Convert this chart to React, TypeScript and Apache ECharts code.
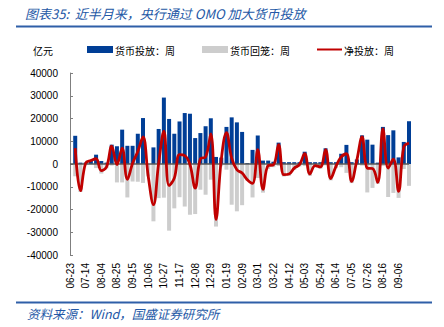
import React, { useEffect, useRef } from 'react';
import * as echarts from 'echarts';

// Weekly categories (Friday dates)
const categories = [
  '06-23', '06-30', '07-07', '07-14', '07-21', '07-28', '08-04', '08-11', '08-18', '08-25',
  '09-01', '09-08', '09-15', '09-22', '09-29', '10-06', '10-13', '10-20', '10-27', '11-03',
  '11-10', '11-17', '11-24', '12-01', '12-08', '12-15', '12-22', '12-29', '01-05', '01-12',
  '01-19', '01-26', '02-02', '02-09', '02-16', '02-23', '03-01', '03-08', '03-15', '03-22',
  '03-29', '04-05', '04-12', '04-19', '04-26', '05-03', '05-10', '05-17', '05-24', '05-31',
  '06-07', '06-14', '06-21', '06-28', '07-05', '07-12', '07-19', '07-26', '08-02', '08-09',
  '08-16', '08-23', '08-30', '09-06', '09-13', '09-20',
];

// 货币投放：周 (亿元)
const injection = [
  null, 12400, 600, 600, 1500, 4100, 1300, 600, 8500, 7800,
  15100, 8000, 8000, 13300, 20200, 0, 7300, 15400, 29200, 19800,
  13300, 18700, 22400, 22100, 11400, 13600, 16600, 20100, 3100, 2800,
  16300, 20500, 18300, 14100, 400, 6200, 12500, 1500, 1500, 1000,
  9400, 800, 800, 800, 800, 5400, 800, 800, 800, 6900,
  800, 800, 4500, 8400, 800, 2000, 12600, 10700, 8500, 600,
  16300, 12700, 14800, 2900, 9700, 18800,
];

// 货币回笼：周 (亿元)
const withdrawal = [
  null, -5400, -12300, -200, 0, -1800, -4200, -1900, -700, -8100,
  -8100, -14700, -7700, -7800, -8300, -5400, -25200, -15000, -14800, -29300,
  -19500, -14600, -18700, -22300, -22000, -11300, -13500, -6900, -27500, -1000,
  -2500, -17900, -20800, -18100, -7300, -14700, -6200, -12600, -2200, -1400,
  -900, -5500, -5200, -2600, -1100, -900, -5200, -1500, -2100, -600,
  -7200, -1800, -1400, -3900, -8400, -300, -700, -12500, -10500, -8700,
  -900, -14500, -12700, -14900, -2200, -9600,
];

// 净投放：周 (亿元)
const netInjection = [
  null, 7000, -11700, 400, 1500, 2300, -2900, -1300, 7800, -300,
  7000, -6700, 300, 5500, 11900, -5400, -17900, 400, 14400, -9500,
  -6200, 4100, 3700, -200, -10600, 2300, 3100, 13200, -24400, 1800,
  13800, 2600, -2500, -4000, -6900, -8500, 6300, -11100, -700, -400,
  8500, -4700, -4400, -1800, -300, 4500, -4400, -700, -1300, 6300,
  -6400, -1000, 3100, 4500, -7600, 1700, 11900, -1800, -2000, -8100,
  15400, -1800, 2100, -12000, 7500, 9200,
];

const seriesNames = ['货币投放：周', '货币回笼：周', '净投放：周'];
const unitLabel = '亿元';
const titleText = '图表35:  近半月来，央行通过 OMO 加大货币投放';
const sourceText = '资料来源：Wind，国盛证券研究所';

const BLUE = '#003E96';
const GRAY = '#CDCDCD';
const RED = '#C00000';
const TITLE_BLUE = '#2458A6';
const CJK = '"Noto Sans CJK SC", sans-serif';
const LATIN = '"Liberation Sans", Arial, sans-serif';

export default function App() {
  const ref = useRef<HTMLDivElement>(null);

  useEffect(() => {
    if (!ref.current) return;
    const chart = echarts.init(ref.current, null, { renderer: 'svg' });
    const legendY = 50;
    chart.setOption({
      animation: false,
      backgroundColor: '#fff',
      grid: { left: 70, right: 35, top: 73, bottom: 72, containLabel: false },
      xAxis: {
        type: 'category',
        data: categories,
        boundaryGap: false,
        axisLine: { show: false },
        axisTick: { show: false },
        axisLabel: {
          interval: 2,
          rotate: 90,
          fontSize: 10,
          color: '#000',
          margin: 8,
          fontFamily: LATIN,
        },
        splitLine: { show: false },
      },
      yAxis: {
        type: 'value',
        min: -40000,
        max: 40000,
        interval: 10000,
        axisLine: { show: true, lineStyle: { color: '#7f7f7f', width: 1 } },
        axisTick: { show: true, inside: true, length: 3, lineStyle: { color: '#7f7f7f' } },
        axisLabel: {
          formatter: (v: number) => String(v),
          fontSize: 10,
          color: '#000',
          margin: 12,
          fontFamily: LATIN,
        },
        splitLine: { show: false },
      },
      series: [
        {
          name: seriesNames[0],
          type: 'bar',
          data: injection,
          barWidth: 4,
          barGap: '-100%',
          clip: false,
          itemStyle: { color: BLUE },
        },
        {
          name: seriesNames[1],
          type: 'bar',
          data: withdrawal,
          barWidth: 4,
          barGap: '-100%',
          clip: false,
          itemStyle: { color: GRAY },
          markLine: {
            silent: true,
            symbol: ['none', 'none'],
            label: { show: false },
            lineStyle: { color: '#595959', width: 1.5, type: 'solid' },
            data: [{ yAxis: 0 }],
          },
        },
        {
          name: seriesNames[2],
          type: 'line',
          data: netInjection,
          smooth: 0.4,
          symbol: 'none',
          z: 5,
          lineStyle: { color: RED, width: 2.8 },
        },
      ],
      graphic: [
        {
          type: 'text',
          left: 25,
          top: 7,
          style: {
            text: titleText,
            font: `italic 13px ${CJK}`,
            fill: TITLE_BLUE,
          },
        },
        {
          type: 'line',
          shape: { x1: 16, y1: 26.5, x2: 432, y2: 26.5 },
          style: { stroke: '#2F5FA8', lineWidth: 2 },
        },
        {
          type: 'text',
          x: 33,
          y: legendY,
          style: { text: unitLabel, font: `10px ${CJK}`, fill: '#000', verticalAlign: 'middle' },
        },
        {
          type: 'rect',
          shape: { x: 87, y: 46, width: 26, height: 7 },
          style: { fill: BLUE },
        },
        {
          type: 'text',
          x: 115,
          y: legendY,
          style: { text: seriesNames[0], font: `10px ${CJK}`, fill: '#000', verticalAlign: 'middle' },
        },
        {
          type: 'rect',
          shape: { x: 202, y: 46, width: 26, height: 7 },
          style: { fill: GRAY },
        },
        {
          type: 'text',
          x: 230,
          y: legendY,
          style: { text: seriesNames[1], font: `10px ${CJK}`, fill: '#000', verticalAlign: 'middle' },
        },
        {
          type: 'line',
          shape: { x1: 317, y1: 49.5, x2: 342, y2: 49.5 },
          style: { stroke: RED, lineWidth: 2 },
        },
        {
          type: 'text',
          x: 344,
          y: legendY,
          style: { text: seriesNames[2], font: `10px ${CJK}`, fill: '#000', verticalAlign: 'middle' },
        },
        {
          type: 'line',
          shape: { x1: 16, y1: 302.5, x2: 432, y2: 302.5 },
          style: { stroke: '#2F5FA8', lineWidth: 2 },
        },
        {
          type: 'text',
          x: 27,
          y: 313,
          style: {
            text: sourceText,
            font: `italic 12.5px ${CJK}`,
            fill: TITLE_BLUE,
            verticalAlign: 'middle',
          },
        },
      ],
    });
    return () => chart.dispose();
  }, []);

  return (
    <div
      ref={ref}
      style={{ position: 'absolute', left: 0, top: 0, width: 444, height: 327 }}
    />
  );
}
